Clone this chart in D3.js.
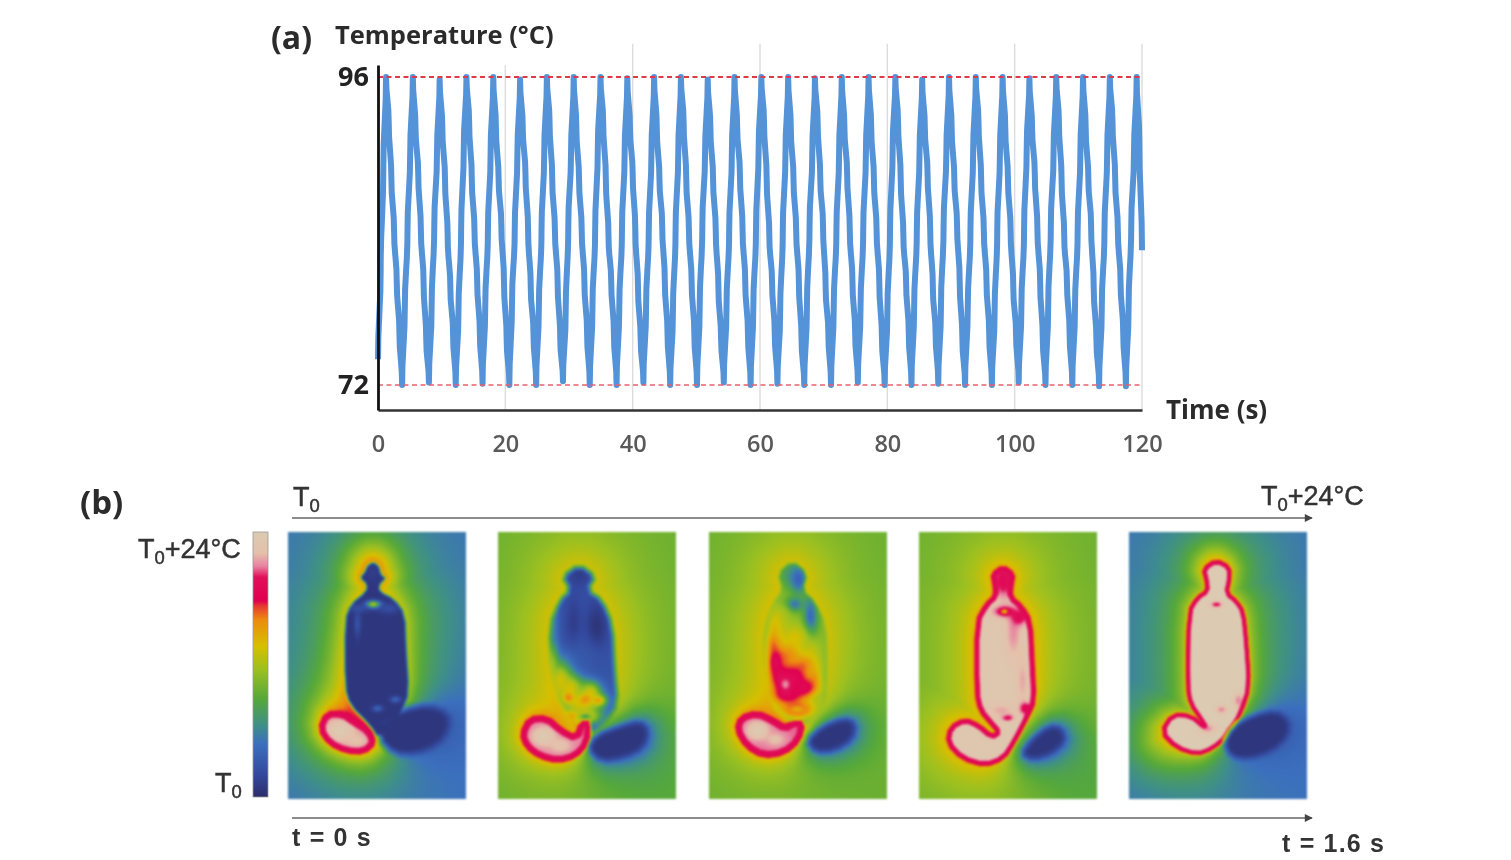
<!DOCTYPE html>
<html><head><meta charset="utf-8">
<script src="https://cdn.jsdelivr.net/npm/d3@7"></script>
<style>
html,body{margin:0;background:#fff;}
#wrap{position:relative;width:1511px;height:860px;overflow:hidden;}
canvas,svg{position:absolute;left:0;top:0;}
canvas{filter:blur(.8px);}
svg{filter:blur(.45px);}
</style></head><body><div id="wrap"><canvas id="heat" width="1511" height="860"></canvas><svg id="chart" width="1511" height="860"></svg></div>
<script>
/* ---------- (a) temperature trace, one row per heating cycle ---------- */
const sampleStep = 120/285;
const temperature = [
74,81,89,
96,92.5,88,84,80,76,72,78,84,90,
96,92,88.5,84,80,75.5,72.2,78,84.5,90,
95.8,92,88,83.5,79.5,76,72,77.5,84,90.5,
96,92.5,88,84,80,76,72.1,78,84,90,
96,92,88,84.5,80,75.5,72,78.5,84,90,
95.8,92,88.5,84,79.5,76,72,78,84,90,
96,92.5,88,84,80,75.5,72.3,77.5,84.5,90,
96,92,88,84,80,76,72,78,84,90.5,
96,92.5,88,83.5,80,76,72,78,84,90,
95.9,92,88.5,84,79.5,75.5,72.2,78,84,90,
96,92,88,84.5,80,76,72,77.5,84,90,
96,92.5,88,84,80,76,72,78,84.5,90,
95.8,92,88,84,79.5,75.5,72.2,78,84,90,
96,92,88.5,84,80,76,72,78,84,90.5,
96,92.5,88,83.5,80,76,72.1,77.5,84,90,
96,92,88,84,80,75.5,72,78,84.5,90,
95.9,92.5,88,84.5,79.5,76,72,78,84,90,
96,92,88.5,84,80,76,72.2,78,84,90,
96,92,88,84,80,75.5,72,77.5,84,90.5,
96,92.5,88,83.5,80,76,72,78,84,90,
95.8,92,88.5,84,79.5,76,72.1,78,84.5,90,
96,92,88,84.5,80,75.5,72,78,84,90,
96,92.5,88,84,80,76,72,77.5,84,90,
96,92,88,84,79.5,76,72.2,78,84,90.5,
95.9,92,88.5,84,80,75.5,72,78,84.5,90,
96,92.5,88,83.5,80,76,72,78,84,90,
96,92,88,84.5,79.5,75.5,71.9,78,84,90,
96,92.5,88,84,80,76,71.9,78,84.5,90,
96,91,82.5];
const xTicks = [0,20,40,60,80,100,120];
const yTicks = [72,96];
const gridTopTemp = {20:96.9,40:98.6,60:98.6,80:98.6,100:98.6,120:98.6};

/* ---------- (b) colour bar stops ---------- */
const cbStops  = [0,.08,.2,.27,.37,.48,.57,.67,.72,.74,.83,.87,.92,1];
const cbColors = ["#2b2d6b","#33479b","#3b6fbe","#3f8f88","#55a83a","#9cc020","#d6bf00","#ec8a10","#e63a30","#e0004f","#e0105a","#e880a0","#e4c0aa","#dccab2"];

/* ---------- (b) thermal frames: outlines in frame pixels (178 x 267) ---------- */
const bottle1 = [[85,30],[91,34],[93,43],[98,46],[91,53],[92,60],[106,67],[117,82],[118,115],[121,161],[114,178],[104,193],[91,206],[81,192],[62,173],[57,155],[57,88],[63,72],[78,60],[79,52],[72,46],[77,40],[79,34]];
const left1 = [[31,197],[38,181],[55,181],[66,189],[81,198],[87,211],[76,221],[58,220],[41,212]];
const right1 = [[91,207],[95,189],[115,178],[141,174],[159,182],[160,197],[149,212],[128,221],[107,221]];
const bottle2 = [[81,31],[99,44],[91,58],[105,67],[116,93],[118,137],[121,172],[109,190],[93,203],[84,194],[63,177],[53,143],[50,93],[61,67],[71,58],[63,44]];
const left2 = [[23,202],[31,186],[49,185],[64,198],[78,205],[83,190],[92,190],[90,212],[78,225],[60,230],[41,225],[28,215]];
const right2 = [[90,217],[98,203],[122,195],[142,190],[150,199],[145,215],[126,225],[103,229]];
const bottle3 = [[83,28],[99,41],[94,58],[106,69],[118,92],[119,140],[117,172],[106,184],[93,197],[77,188],[62,174],[55,140],[54,95],[64,69],[73,58],[68,41]];
const left3 = [[27,198],[31,185],[48,180],[65,188],[76,195],[83,190],[95,190],[91,209],[75,222],[54,225],[37,215]];
const right3 = [[98,209],[113,195],[135,187],[146,192],[143,207],[126,218],[107,220]];
const bottle4 = [[84,34],[95,42],[93,53],[92,65],[103,74],[112,89],[114,131],[116,169],[110,183],[96,210],[85,227],[66,234],[43,227],[28,211],[31,195],[46,187],[60,193],[73,204],[79,200],[72,192],[61,179],[57,161],[57,90],[67,72],[76,64],[75,52],[73,42]];
const right4 = [[103,222],[113,208],[130,195],[142,197],[145,209],[132,221],[114,227]];
const bottle5 = [[87,28],[101,35],[101,48],[98,61],[108,69],[115,80],[118,110],[121,155],[113,180],[100,203],[84,217],[68,223],[47,216],[32,200],[43,182],[62,183],[76,195],[72,188],[61,172],[58,155],[59,80],[68,65],[78,59],[77,48],[74,37]];
const right5 = [[96,212],[104,195],[125,184],[147,180],[159,189],[158,204],[143,218],[120,226],[103,224]];
const panelLeft = [288,498,709,919,1129];
const panelTop = 532, panelW = 178, panelH = 267;

const frames = [
 { bg:.2,
   halos:[[bottle1,.27,34],[bottle1,.07,8],[left1,.25,24],[left1,.12,7],[right1,-.14,24]],
   glow:[[84,38,28,34,.16],[60,140,26,50,.05]],
   cores:[
    {shape:bottle1,v:.03,inner:2,outer:2.5,spots:[[85,72,7,3.5,.55],[107,167,5,3,.17],[89,176,5,3,.17],[104,191,7,3,.2],[69,91,3,12,.12],[70,76,10,4,.1],[100,76,10,5,.1],[84,40,7,10,.05]]},
    {shape:right1,v:.03,inner:5,outer:8,spots:[]},
    {shape:left1,v:.89,ring:.79,ringW:2.5,inner:4,outer:3.5,spots:[[52,198,12,9,.99],[68,208,10,6,.93]]}
   ]},
 { bg:.4,
   halos:[[bottle2,.14,32],[left2,.11,24],[left2,.12,6],[right2,-.3,14]],
   glow:[[80,90,60,90,.04],[150,240,60,60,-.04]],
   cores:[
    {shape:bottle2,v:.12,inner:6,outer:4,spots:[[98,97,12,30,.02],[75,93,9,34,.05],[81,42,13,14,.05],[55,93,5,28,.22],[82,127,24,20,.13],[108,160,11,30,.12],[55,128,5,18,.38],[62,148,11,20,.56],[72,155,13,13,.56],[92,160,10,11,.55],[82,170,22,13,.57],[70,165,5,5,.68],[87,167,5,5,.66],[100,168,7,5,.63],[73,184,7,6,.67],[87,184,15,8,.6],[87,184,6,3,.33]]},
    {shape:right2,v:.03,inner:5,outer:6,spots:[]},
    {shape:left2,v:.87,ring:.79,ringW:2.5,inner:4,outer:3.5,spots:[[45,204,11,9,.99],[62,213,11,7,.94]]}
   ]},
 { bg:.4,
   halos:[[bottle3,.14,32],[left3,.11,24],[left3,.12,6],[right3,-.3,14]],
   glow:[[80,80,55,80,.04]],
   cores:[
    {shape:bottle3,v:.44,inner:3,outer:3,spots:[[83,43,14,15,.3],[89,47,8,13,.16],[83,72,10,7,.16],[101,87,7,24,.16],[74,87,9,22,.48],[66,95,8,20,.58],[86,105,16,14,.56],[102,118,10,14,.52],[64,112,6,12,.66],[78,122,14,12,.65],[95,132,12,10,.65],[105,145,7,16,.6],[66,130,8,16,.79],[72,145,12,14,.79],[85,145,14,14,.79],[95,155,12,10,.78],[78,162,18,12,.79],[76,152,6,7,.88],[83,163,2,3,.74],[108,168,5,6,.5],[88,177,15,8,.78],[88,177,8,4,.6]]},
    {shape:right3,v:.03,inner:5,outer:6,spots:[]},
    {shape:left3,v:.86,ring:.79,ringW:2.5,inner:4,outer:3.5,spots:[[48,198,11,9,.99],[66,207,10,7,.93]]}
   ]},
 { bg:.4,
   halos:[[bottle4,.18,34],[bottle4,.04,8],[right4,-.32,14]],
   glow:[[160,250,50,50,-.04]],
   cores:[
    {shape:bottle4,v:.97,ring:.79,ringW:2,inner:3.5,outer:3.5,spots:[[94,100,8,26,.88],[103,148,6,25,.9],[84,48,10,18,.79],[85,79,12,6,.79],[85,79,3.5,2.5,.58],[100,85,8,8,.79],[88,185,6,3.5,.76],[106,176,6,6,.76],[82,178,14,7,.9],[72,200,9,5,.9]]},
    {shape:right4,v:.03,inner:5,outer:6,spots:[]}
   ]},
 { bg:.2,
   halos:[[bottle5,.25,34],[bottle5,.1,8],[right5,-.12,22]],
   glow:[[84,30,22,22,.1],[30,210,30,30,.1]],
   cores:[
    {shape:bottle5,v:1,ring:.79,ringW:1.8,inner:3,outer:3.5,spots:[[87,72,6,3,.8],[92,177,6,4,.87],[109,168,5,8,.87],[78,196,8,5,.87]]},
    {shape:right5,v:.03,inner:4,outer:7,spots:[]}
   ]}
];

/* ---------- helpers ---------- */
const clamp01 = t => Math.max(0,Math.min(1,t));
const smooth = t => { t=clamp01(t); return t*t*(3-2*t); };
const lerp = (a,b,t) => a+(b-a)*t;
function chaikin(p){
  const out=[];
  p.forEach((a,i)=>{const b=p[(i+1)%p.length];
    out.push([a[0]*.75+b[0]*.25,a[1]*.75+b[1]*.25],[a[0]*.25+b[0]*.75,a[1]*.25+b[1]*.75]);});
  return out;
}
function signedField(poly){
  const pts=chaikin(poly), n=pts.length, f=new Float32Array(panelW*panelH);
  for(let y=0;y<panelH;y++)for(let x=0;x<panelW;x++){
    let best=1e12, px=x+.5, py=y+.5;
    for(let i=0;i<n;i++){
      const a=pts[i], b=pts[(i+1)%n], dx=b[0]-a[0], dy=b[1]-a[1];
      const t=clamp01(((px-a[0])*dx+(py-a[1])*dy)/(dx*dx+dy*dy));
      const ex=a[0]+t*dx-px, ey=a[1]+t*dy-py, d=ex*ex+ey*ey;
      if(d<best)best=d;
    }
    const d=Math.sqrt(best);
    f[y*panelW+x]=d3.polygonContains(pts,[px,py])?-d:d;
  }
  return f;
}
const colorScale = d3.scaleLinear().domain(cbStops).range(cbColors).interpolate(d3.interpolateRgb).clamp(true);
const lut = d3.range(1025).map(i=>d3.rgb(colorScale(i/1024)));

/* ---------- draw thermal frames ---------- */
const ctx = d3.select("#heat").node().getContext("2d");
const fieldCache = new Map();
const fieldOf = s => { if(!fieldCache.has(s)) fieldCache.set(s,signedField(s)); return fieldCache.get(s); };
const frameX = d3.scaleLinear().domain([0,panelW]);
const frameY = d3.scaleLinear().domain([0,panelH]).range([panelTop,panelTop+panelH]);
frames.forEach((fr,k)=>{
  frameX.range([panelLeft[k],panelLeft[k]+panelW]);
  const img=ctx.createImageData(panelW,panelH);
  const halos=fr.halos.map(h=>[fieldOf(h[0]),h[1],h[2]]);
  const cores=fr.cores.map(c=>Object.assign({f:fieldOf(c.shape)},c));
  for(let y=0;y<panelH;y++)for(let x=0;x<panelW;x++){
    const idx=y*panelW+x;
    let H=fr.bg;
    for(const h of halos){ H+=h[1]*Math.exp(-Math.max(0,h[0][idx])/h[2]); }
    for(const g of fr.glow){ const dx=(x-g[0])/g[2], dy=(y-g[1])/g[3]; H+=g[4]*Math.exp(-(dx*dx+dy*dy)); }
    let val=H;
    for(const c of cores){
      const sd=c.f[idx];
      if(sd>c.outer) continue;
      let inside=c.v;
      for(const s of c.spots){ const dx=(x-s[0])/s[2], dy=(y-s[1])/s[3]; inside=lerp(inside,s[4],Math.exp(-(dx*dx+dy*dy))); }
      if(c.ring!==undefined){
        const a=smooth((c.outer-sd)/c.outer);
        const b=smooth((-sd-c.ringW)/c.inner);
        val=lerp(lerp(val,c.ring,a),inside,b);
      } else {
        val=lerp(val,inside,smooth((c.outer-sd)/(c.outer+c.inner)));
      }
    }
    const col=lut[Math.round(clamp01(val)*1024)], o=idx*4;
    img.data[o]=col.r;img.data[o+1]=col.g;img.data[o+2]=col.b;img.data[o+3]=255;
  }
  ctx.putImageData(img,frameX(0),frameY(0));
});

/* ---------- svg ---------- */
const svg = d3.select("#chart");
const sansA = "'Open Sans',sans-serif", sansB = "'Liberation Sans',Arial,sans-serif";
const x = d3.scaleLinear().domain([0,120]).range([378,1142]);
const y = d3.scaleLinear().domain([72,96]).range([385,77]);
const yBase = 70.05, yAxisTop = 96.93;

// gridlines
svg.append("g").selectAll("line").data(xTicks.slice(1)).join("line")
  .attr("x1",d=>x(d)).attr("x2",d=>x(d))
  .attr("y1",y(yBase)).attr("y2",d=>y(gridTopTemp[d]))
  .attr("stroke","#dcdcdc").attr("stroke-width",1.4);

// trace
const line = d3.line().x((d,i)=>x(i*sampleStep)).y(d=>y(d)).curve(d3.curveBumpY);
svg.append("path").datum(temperature).attr("d",line)
  .attr("fill","none").attr("stroke","#5593d8").attr("stroke-width",6).attr("stroke-linejoin","round");

// limit lines
svg.append("g").selectAll("line").data(yTicks).join("line")
  .attr("x1",x(0)).attr("x2",x(120)).attr("y1",d=>y(d)).attr("y2",d=>y(d))
  .attr("stroke",d=>d===96?"#e0394a":"#e8606c").attr("stroke-width",d=>d===96?1.9:1.5).attr("stroke-dasharray","5 3.5");

// axes
const xAxis = d3.axisBottom(x).tickValues(xTicks).tickSize(0).tickPadding(25).tickFormat(d3.format("d"));
const gx = svg.append("g").attr("transform",`translate(0,${y(yBase)})`).call(xAxis);
gx.select(".domain").attr("stroke","#333").attr("stroke-width",2.6);
gx.selectAll("text").attr("font-family",sansA).attr("font-size",23.5).attr("font-weight",600).attr("fill","#595959");
const yAxisScale = y.copy().domain([yBase,yAxisTop]).range([y(yBase),y(yAxisTop)]);
const yAxis = d3.axisLeft(yAxisScale).tickValues(yTicks).tickSize(0).tickPadding(9).tickFormat(d3.format("d"));
const gy = svg.append("g").attr("transform",`translate(${x(0)},0)`).call(yAxis);
gy.select(".domain").attr("stroke","#111").attr("stroke-width",2.8);
gy.selectAll("text").attr("font-family",sansA).attr("font-size",27).attr("font-weight",700).attr("fill","#222");

function label(px,py,txt,size,opt={}){
  const t=svg.append("text").attr("x",px).attr("y",py).attr("font-family",opt.font||sansA)
    .attr("font-size",size).attr("font-weight",opt.weight||600).attr("fill",opt.fill||"#2b2b2b")
    .attr("text-anchor",opt.anchor||"start");
  if(opt.spacing)t.attr("letter-spacing",opt.spacing);
  if(opt.stroke)t.attr("stroke",opt.fill||"#2b2b2b").attr("stroke-width",opt.stroke);
  let sub=false;
  [].concat(txt).forEach(part=>{
    if(typeof part==="string"){ t.append("tspan").attr("dy",sub?-6:0).text(part); sub=false; }
    else { t.append("tspan").attr("dy",6).attr("font-size",size*.68).text(part.sub); sub=true; }
  });
  return t;
}
label(271,49,"(a)",32,{weight:700});
label(335,44,"Temperature (°C)",25.5,{weight:700});
label(1166,419,"Time (s)",26,{weight:700});
label(80,514,"(b)",33,{weight:700});
const b={font:sansB,weight:400,fill:"#333",stroke:.5};
label(293,506,["T",{sub:"0"}],27,b);
label(1261,505,["T",{sub:"0"},"+24°C"],27,b);
label(138,558,["T",{sub:"0"},"+24°C"],27,b);
label(215,792,["T",{sub:"0"}],27,b);
label(292,846,"t = 0 s",25,{font:sansB,weight:700,fill:"#333",spacing:1.2});
label(1282,852,"t = 1.6 s",25,{font:sansB,weight:700,fill:"#333",spacing:1.2});

// arrows
const defs=svg.append("defs");
defs.append("marker").attr("id","ah").attr("viewBox","0 0 10 10").attr("refX",9).attr("refY",5)
  .attr("markerWidth",10).attr("markerHeight",8).attr("markerUnits","userSpaceOnUse").attr("orient","auto")
  .append("path").attr("d","M0,0L10,5L0,10Z").attr("fill","#444");
svg.append("g").selectAll("line").data([518,818]).join("line")
  .attr("x1",292).attr("x2",1312).attr("y1",d=>d).attr("y2",d=>d)
  .attr("stroke","#666").attr("stroke-width",1.6).attr("marker-end","url(#ah)");

// colour bar
const grad=defs.append("linearGradient").attr("id","cb").attr("x1",0).attr("x2",0).attr("y1",1).attr("y2",0);
grad.selectAll("stop").data(cbStops).join("stop").attr("offset",d=>d).attr("stop-color",(d,i)=>cbColors[i]);
svg.append("rect").attr("x",253).attr("y",532).attr("width",15).attr("height",265)
  .attr("fill","url(#cb)").attr("stroke","#999").attr("stroke-width",.8);
</script></body></html>
